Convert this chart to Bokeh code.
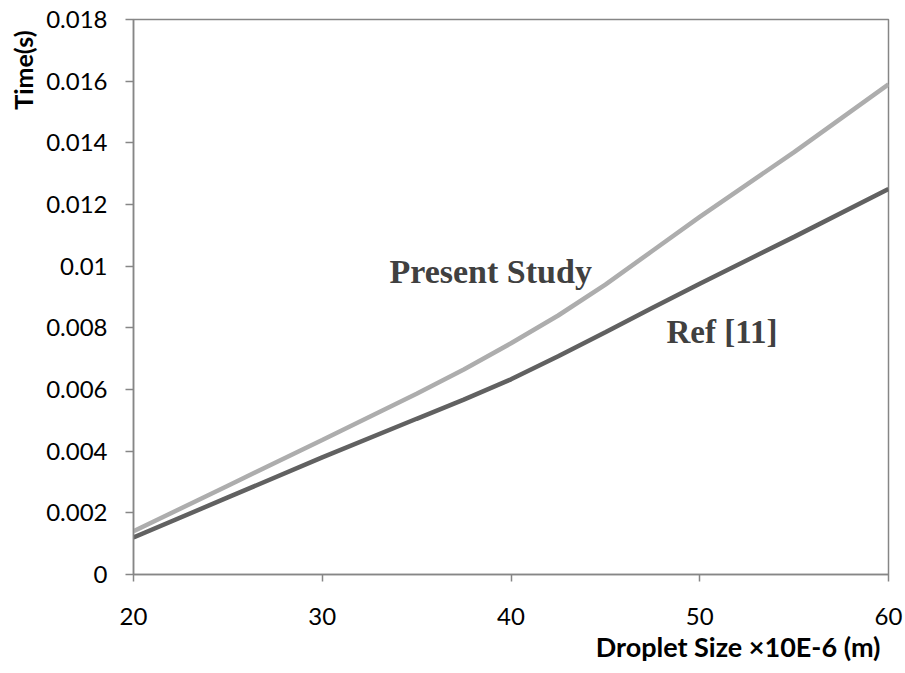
from bokeh.plotting import figure
from bokeh.models import FixedTicker, Label, Range1d, Title
from bokeh.embed import file_html
from bokeh.resources import INLINE

# ---- data ----
droplet_size = [20, 25, 30, 35, 37.5, 40, 42.5, 45, 47.5, 50, 55, 60]
present_study = [0.00140, 0.00288, 0.00436, 0.00586, 0.00665, 0.0075, 0.0084, 0.0094, 0.0105, 0.0116, 0.0137, 0.0159]
ref_11 = [0.0012, 0.0025, 0.0038, 0.00505, 0.00567, 0.00633, 0.00708, 0.00786, 0.00865, 0.00943, 0.01095, 0.0125]
x_ticks = [20, 30, 40, 50, 60]
y_ticks = [0, 0.002, 0.004, 0.006, 0.008, 0.01, 0.012, 0.014, 0.016, 0.018]
y_tick_labels = ["0", "0.002", "0.004", "0.006", "0.008", "0.01", "0.012", "0.014", "0.016", "0.018"]
series_names = ["Present Study", "Ref [11]"]
x_title = "Droplet Size \u00d710E-6 (m)"
y_title = "Time(s)"

p = figure(width=905, height=673, output_backend="svg", toolbar_location=None,
           x_range=Range1d(20, 60), y_range=Range1d(0, 0.018),
           min_border_left=133, min_border_right=17, min_border_top=19, min_border_bottom=99)

p.xgrid.visible = False
p.ygrid.visible = False
p.outline_line_color = "#868686"
p.outline_line_width = 1.5
p.background_fill_color = "white"
p.border_fill_color = "white"

for ax in (p.xaxis[0], p.yaxis[0]):
    ax.axis_line_color = "#868686"
    ax.axis_line_width = 1.5
    ax.major_tick_line_color = "#868686"
    ax.major_tick_line_width = 1.5
    ax.major_tick_in = 0
    ax.minor_tick_line_color = None
    ax.major_label_text_font = "Lato"
    ax.major_label_text_font_size = "24px"
    ax.major_label_text_color = "#000000"

p.yaxis[0].ticker = FixedTicker(ticks=y_ticks)
p.yaxis[0].major_label_overrides = {t: s for t, s in zip(y_ticks, y_tick_labels)}
p.yaxis[0].major_tick_out = 8
p.yaxis[0].major_label_standoff = 18

p.xaxis[0].ticker = FixedTicker(ticks=x_ticks)
p.xaxis[0].major_tick_out = 7
p.xaxis[0].major_label_standoff = 26

p.line(droplet_size, present_study, line_color="#adadad", line_width=4.5)
p.line(droplet_size, ref_11, line_color="#616161", line_width=4.5)

p.add_layout(Label(x=33.56, y=0.00984, text=series_names[0], text_font="Liberation Serif",
                   text_font_style="bold", text_font_size="34px", text_color="#404040",
                   text_baseline="middle", text_align="left"))
p.add_layout(Label(x=48.24, y=0.00785, text=series_names[1], text_font="Liberation Serif",
                   text_font_style="bold", text_font_size="33px", text_color="#404040",
                   text_baseline="middle", text_align="left"))

# axis titles (Excel-style placement: x title right-aligned, y title at top)
p.add_layout(Title(text=x_title, align="right", text_font="Lato", text_font_style="bold",
                   text_font_size="27px", text_color="#000000", offset=8, standoff=0), "below")
p.add_layout(Title(text=y_title, align="right", text_font="Lato", text_font_style="bold",
                   text_font_size="25px", text_color="#000000", offset=11, standoff=11), "left")

open("out.html", "w").write(file_html(p, INLINE))
